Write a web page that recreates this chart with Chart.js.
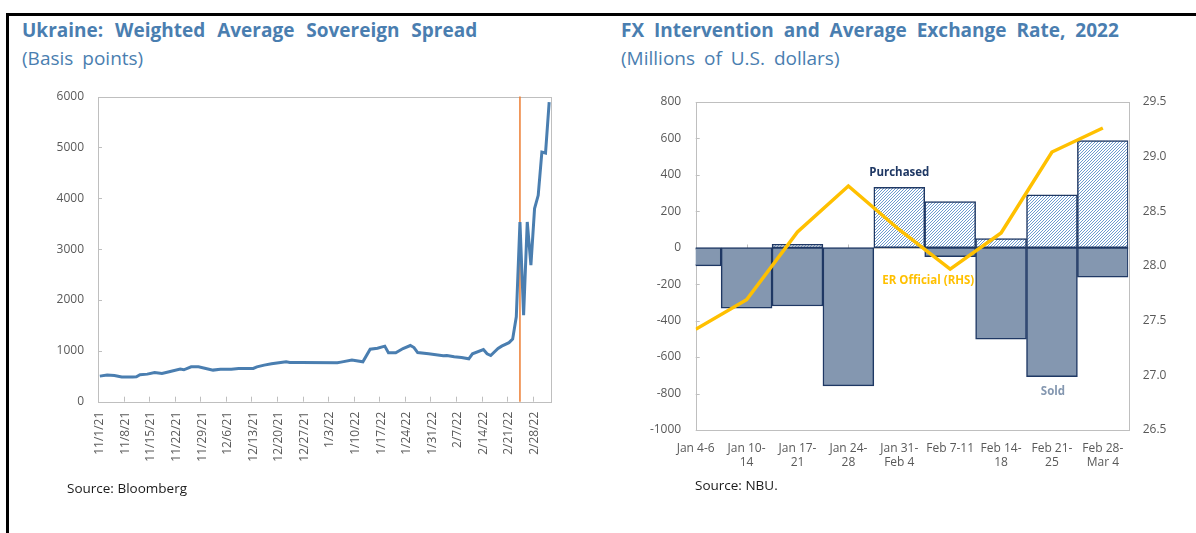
<!DOCTYPE html>
<html>
<head>
<meta charset="utf-8">
<script src="https://cdn.jsdelivr.net/npm/chart.js@4.4.1/dist/chart.umd.min.js"></script>
<style>
  body { margin: 0; background: #fff; font-family: 'Open Sans', sans-serif; }
  #page { position: relative; width: 1196px; height: 533px; overflow: hidden; }
  .frame-top { position: absolute; left: 6px; top: 13px; width: 1190px; height: 3px; background: #000; }
  .frame-left { position: absolute; left: 6px; top: 13px; width: 3px; height: 520px; background: #000; }
  .title { position: absolute; font-weight: 700; font-size: 19px; line-height: 24px; word-spacing: 5px; color: #4A7EB0; white-space: nowrap; }
  .sub { position: absolute; font-size: 19px; line-height: 24px; word-spacing: 4px; color: #4A7EB0; white-space: nowrap; }
  .source { position: absolute; font-size: 13.5px; line-height: 18px; color: #1a1a1a; white-space: nowrap; }
  canvas { position: absolute; }
</style>
</head>
<body>
<div id="page">
  <div class="frame-top"></div>
  <div class="frame-left"></div>

  <div class="title" style="left:22px; top:18px; word-spacing:7px;">Ukraine: Weighted Average Sovereign Spread</div>
  <div class="sub" style="left:22px; top:46px;">(Basis points)</div>
  <canvas id="spread" width="530" height="395" style="left:40px; top:85px;"></canvas>
  <div class="source" style="left:67px; top:479px;">Source: Bloomberg</div>

  <div class="title" style="left:621px; top:18px;">FX Intervention and Average Exchange Rate, 2022</div>
  <div class="sub" style="left:621px; top:46px;">(Millions of U.S. dollars)</div>
  <canvas id="fx" width="596" height="400" style="left:600px; top:85px;"></canvas>
  <div class="source" style="left:695px; top:476px;">Source: NBU.</div>
</div>

<script>
// ---- left chart data: sovereign spread (bp) ----
const spreadDates = [
  '11/1/21', '11/3/21', '11/5/21', '11/7/21', '11/10/21', '11/11/21', '11/12/21', '11/14/21',
  '11/16/21', '11/18/21', '11/20/21', '11/23/21', '11/24/21', '11/26/21', '11/28/21', '11/30/21',
  '12/2/21', '12/4/21', '12/7/21', '12/9/21', '12/13/21', '12/14/21', '12/16/21', '12/18/21',
  '12/20/21', '12/22/21', '12/23/21', '12/26/21', '1/5/22', '1/6/22', '1/9/22', '1/12/22',
  '1/14/22', '1/16/22', '1/18/22', '1/19/22', '1/21/22', '1/23/22', '1/25/22', '1/26/22',
  '1/27/22', '1/30/22', '2/3/22', '2/4/22', '2/6/22', '2/8/22', '2/10/22', '2/11/22',
  '2/14/22', '2/15/22', '2/16/22', '2/18/22', '2/19/22', '2/21/22', '2/22/22', '2/23/22',
  '2/24/22', '2/25/22', '2/26/22', '2/27/22', '2/28/22', '3/1/22', '3/2/22', '3/3/22', '3/4/22'
];
const spreadValues = [
  503, 523, 516, 484, 484, 490, 530, 542,
  575, 556, 588, 640, 627, 686, 686, 654,
  621, 640, 640, 654, 654, 686, 719, 745,
  765, 784, 771, 771, 765, 778, 817, 784,
  1033, 1052, 1092, 961, 961, 1046, 1105, 1065,
  967, 941, 902, 908, 882, 869, 843, 941,
  1026, 941, 908, 1046, 1092, 1160, 1230, 1669,
  3533, 1702, 3533, 2683, 3796, 4057, 4907, 4888, 5889
];
const spreadTickDates = [
  '11/1/21', '11/8/21', '11/15/21', '11/22/21', '11/29/21', '12/6/21', '12/13/21', '12/20/21',
  '12/27/21', '1/3/22', '1/10/22', '1/17/22', '1/24/22', '1/31/22', '2/7/22', '2/14/22',
  '2/21/22', '2/28/22'
];
const spreadYTicks = [0, 1000, 2000, 3000, 4000, 5000, 6000];
const invasionDate = '2/24/22';

// ---- right chart data: FX intervention ----
const fxWeeks = ['Jan 4-6', 'Jan 10-14', 'Jan 17-21', 'Jan 24-28', 'Jan 31-Feb 4',
  'Feb 7-11', 'Feb 14-18', 'Feb 21-25', 'Feb 28-Mar 4'];
const fxPurchased = [0, 0, 18, 0, 331, 252, 49, 289, 587];
const fxSold = [-100, -332, -320, -758, 0, -49, -502, -707, -162];
const erOfficial = [27.42, 27.69, 28.31, 28.73, 28.33, 27.97, 28.30, 29.04, 29.26];

const GRAY_TXT = '#595959';
const AXIS_GRAY = '#BFBFBF';
const tickFont = { family: "'Open Sans', sans-serif", size: 12 };

// day offset from 1 Nov 2021
function dayIndex(s) {
  const [m, d, y] = s.split('/').map(Number);
  return Math.round((Date.UTC(2000 + y, m - 1, d) - Date.UTC(2021, 10, 1)) / 86400000);
}
const tickDays = spreadTickDates.map(dayIndex);

// fixed axis sizes, no extra label padding
function fixSize(w, h) {
  return axis => {
    if (w != null) axis.width = w;
    if (h != null) axis.height = h;
    axis.paddingTop = 0;
    axis.paddingBottom = 0;
    axis.paddingLeft = 0;
    axis.paddingRight = 0;
  };
}

// box around the plot area
const plotBox = {
  id: 'plotBox',
  beforeDatasetsDraw(chart) {
    const { ctx, chartArea: a } = chart;
    ctx.save();
    ctx.strokeStyle = AXIS_GRAY;
    ctx.lineWidth = 1;
    ctx.strokeRect(Math.round(a.left) + 0.5, Math.round(a.top) + 0.5,
      Math.round(a.right - a.left), Math.round(a.bottom - a.top));
    ctx.restore();
  }
};

// 1. Spread chart
const spreadExtras = {
  id: 'spreadExtras',
  beforeDatasetsDraw(chart) {
    const { ctx, chartArea: a, scales } = chart;
    ctx.save();
    ctx.strokeStyle = AXIS_GRAY;
    ctx.lineWidth = 1;
    ctx.beginPath();
    tickDays.forEach(d => {
      const px = Math.round(scales.x.getPixelForValue(d - 0.5)) + 0.5;
      ctx.moveTo(px, a.bottom);
      ctx.lineTo(px, a.bottom - 5);
    });
    spreadYTicks.forEach(v => {
      const py = Math.round(scales.y.getPixelForValue(v)) + 0.5;
      ctx.moveTo(a.left, py);
      ctx.lineTo(a.left + 4, py);
    });
    ctx.stroke();
    // invasion marker
    const ex = scales.x.getPixelForValue(dayIndex(invasionDate));
    ctx.strokeStyle = '#ED7D31';
    ctx.lineWidth = 1.5;
    ctx.beginPath();
    ctx.moveTo(ex, a.top);
    ctx.lineTo(ex, a.bottom);
    ctx.stroke();
    ctx.restore();
  }
};

new Chart(document.getElementById('spread'), {
  type: 'line',
  data: {
    datasets: [{
      data: spreadDates.map((d, i) => ({ x: dayIndex(d), y: spreadValues[i] })),
      borderColor: '#4A7EB0',
      borderWidth: 3,
      pointRadius: 0,
      tension: 0
    }]
  },
  options: {
    responsive: false,
    animation: false,
    layout: { padding: { top: 11.5, right: 19, left: 0, bottom: 0 } },
    plugins: { legend: { display: false }, tooltip: { enabled: false } },
    scales: {
      x: {
        type: 'linear',
        min: -0.5,
        max: 123.5,
        grid: { display: false, drawTicks: false },
        border: { display: false },
        afterBuildTicks: axis => { axis.ticks = tickDays.map(v => ({ value: v })); },
        afterFit: fixSize(null, 78.3),
        ticks: {
          autoSkip: false,
          minRotation: 90,
          maxRotation: 90,
          padding: 10,
          color: GRAY_TXT,
          font: tickFont,
          callback: v => {
            const i = tickDays.indexOf(v);
            return i >= 0 ? spreadTickDates[i] : '';
          }
        }
      },
      y: {
        min: 0,
        max: 6000,
        grid: { display: false, drawTicks: false },
        border: { display: false },
        afterFit: fixSize(58, null),
        ticks: { stepSize: 1000, padding: 14, color: GRAY_TXT, font: tickFont, callback: v => String(v) }
      }
    }
  },
  plugins: [plotBox, spreadExtras]
});

// 2. FX chart
function hatchPattern(ctx) {
  const c = document.createElement('canvas');
  c.width = 3; c.height = 3;
  const g = c.getContext('2d');
  g.fillStyle = '#ffffff';
  g.fillRect(0, 0, 3, 3);
  g.strokeStyle = '#6E9BCF';
  g.lineWidth = 1;
  g.beginPath();
  g.moveTo(0, 3); g.lineTo(3, 0);
  g.moveTo(-1, 1); g.lineTo(1, -1);
  g.moveTo(2, 4); g.lineTo(4, 2);
  g.stroke();
  return ctx.createPattern(c, 'repeat');
}

const fxCanvas = document.getElementById('fx');
const fxCtx = fxCanvas.getContext('2d');

const fxExtras = {
  id: 'fxExtras',
  beforeDatasetsDraw(chart) {
    const { ctx, chartArea: a, scales } = chart;
    ctx.save();
    ctx.strokeStyle = AXIS_GRAY;
    ctx.lineWidth = 1;
    ctx.beginPath();
    const zy = Math.round(scales.y.getPixelForValue(0)) + 0.5;
    ctx.moveTo(a.left, zy);
    ctx.lineTo(a.right, zy);
    fxWeeks.forEach((w, i) => {
      const px = Math.round(scales.x.getPixelForValue(i)) + 0.5;
      ctx.moveTo(px, zy);
      ctx.lineTo(px, zy - 4);
    });
    for (let v = -1000; v <= 800; v += 200) {
      const py = Math.round(scales.y.getPixelForValue(v)) + 0.5;
      ctx.moveTo(a.left, py);
      ctx.lineTo(a.left + 4, py);
    }
    ctx.stroke();
    ctx.restore();
  },
  afterDatasetsDraw(chart) {
    const { ctx, scales } = chart;
    const notes = [
      { text: 'Purchased', x: 4, y: 413, color: '#1F3864' },
      { text: 'ER Official (RHS)', x: 4.57, y: -183, color: '#FFC000' },
      { text: 'Sold', x: 7.02, y: -790, color: '#8497B0' }
    ];
    ctx.save();
    ctx.font = "bold 11.5px 'Open Sans', sans-serif";
    ctx.textAlign = 'center';
    ctx.textBaseline = 'middle';
    notes.forEach(n => {
      ctx.fillStyle = n.color;
      ctx.fillText(n.text, scales.x.getPixelForValue(n.x), scales.y.getPixelForValue(n.y));
    });
    ctx.restore();
  }
};

const splitWeek = w => (w.length > 8 ? [w.slice(0, w.indexOf('-') + 1), w.slice(w.indexOf('-') + 1)] : w);

new Chart(fxCtx, {
  type: 'bar',
  data: {
    datasets: [
      {
        type: 'line',
        label: 'ER Official (RHS)',
        data: erOfficial.map((v, i) => ({ x: i, y: v })),
        yAxisID: 'y2',
        borderColor: '#FFC000',
        borderWidth: 3.5,
        pointRadius: 0,
        tension: 0,
        order: 0
      },
      {
        label: 'Purchased',
        data: fxPurchased.map((v, i) => ({ x: i, y: v || null })),
        yAxisID: 'y',
        backgroundColor: hatchPattern(fxCtx),
        borderColor: '#1F3864',
        borderWidth: 1.5,
        borderSkipped: false,
        barPercentage: 1,
        categoryPercentage: 1,
        grouped: false,
        order: 1
      },
      {
        label: 'Sold',
        data: fxSold.map((v, i) => ({ x: i, y: v || null })),
        yAxisID: 'y',
        backgroundColor: '#8497B0',
        borderColor: '#1F3864',
        borderWidth: 1.5,
        borderSkipped: false,
        barPercentage: 1,
        categoryPercentage: 1,
        grouped: false,
        order: 1
      }
    ]
  },
  options: {
    responsive: false,
    animation: false,
    layout: { padding: { top: 16.7, right: 0, left: 0, bottom: 0 } },
    plugins: { legend: { display: false }, tooltip: { enabled: false } },
    scales: {
      x: {
        type: 'linear',
        min: 0,
        max: 8.5,
        offset: false,
        grid: { display: false, drawTicks: false },
        border: { display: false },
        afterBuildTicks: axis => { axis.ticks = fxWeeks.map((w, i) => ({ value: i })); },
        afterFit: fixSize(null, 55),
        ticks: {
          autoSkip: false,
          maxRotation: 0,
          padding: 11,
          color: GRAY_TXT,
          font: tickFont,
          callback: v => splitWeek(fxWeeks[v] || '')
        }
      },
      y: {
        position: 'left',
        min: -1000,
        max: 800,
        grid: { display: false, drawTicks: false },
        border: { display: false },
        afterFit: fixSize(95.7, null),
        ticks: { stepSize: 200, padding: 14.5, color: GRAY_TXT, font: tickFont, callback: v => String(v) }
      },
      y2: {
        position: 'right',
        min: 26.5,
        max: 29.5,
        grid: { display: false, drawTicks: false },
        border: { display: false },
        afterFit: fixSize(67.7, null),
        ticks: { stepSize: 0.5, padding: 14.4, color: GRAY_TXT, font: tickFont }
      }
    }
  },
  plugins: [plotBox, fxExtras]
});
</script>
</body>
</html>
